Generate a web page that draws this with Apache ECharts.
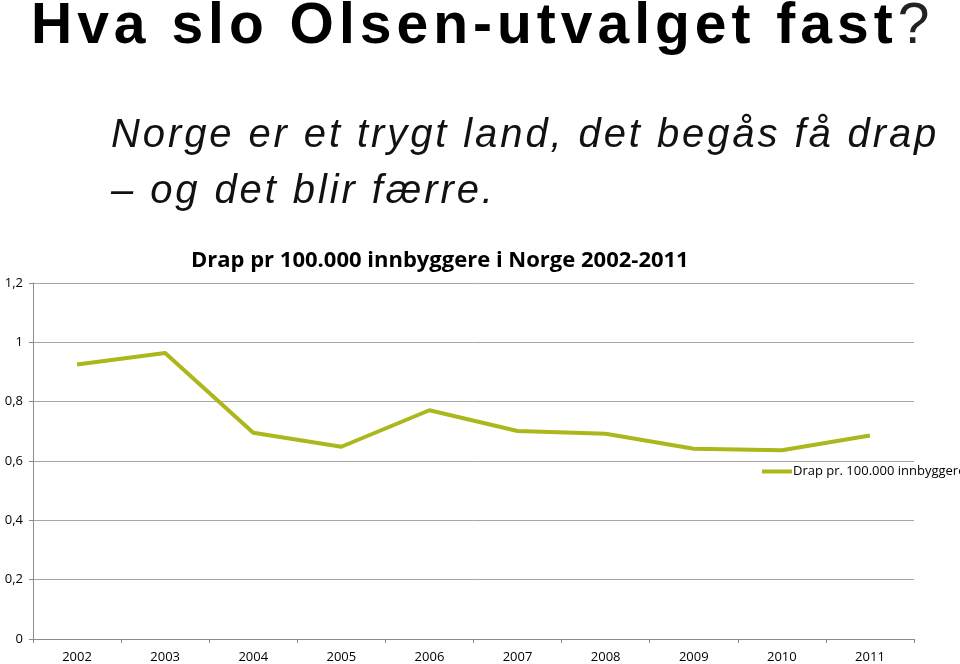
<!DOCTYPE html>
<html>
<head>
<meta charset="utf-8">
<script src="https://cdn.jsdelivr.net/npm/echarts@6/dist/echarts.min.js"></script>
<style>
  html, body { margin: 0; padding: 0; background: #fff; }
  #wrap { position: relative; width: 960px; height: 664px; overflow: hidden; }
  #container { position: absolute; left: 0; top: 0; width: 960px; height: 664px; }
  .head { position: absolute; font-family: "Liberation Sans", Arial, sans-serif; color: #000; white-space: nowrap; }
  #title { left: 31px; top: -5px; font-size: 57px; line-height: 57px; font-weight: bold; letter-spacing: 5px; }
  #title span { font-weight: normal; letter-spacing: 0; color: #222; }
  #sub { left: 111px; top: 105px; font-size: 40px; line-height: 56px; font-style: italic; letter-spacing: 2.9px; color: #111; }
</style>
</head>
<body>
<div id="wrap">
  <div id="container"></div>
  <div class="head" id="title">Hva slo Olsen-utvalget fast<span>?</span></div>
  <div class="head" id="sub">Norge er et trygt land, det begås få drap<br>– og det blir færre.</div>
</div>
<script>
var years = ['2002', '2003', '2004', '2005', '2006', '2007', '2008', '2009', '2010', '2011'];
var drap = [0.925, 0.964, 0.695, 0.648, 0.771, 0.701, 0.692, 0.641, 0.636, 0.686];
var seriesName = 'Drap pr. 100.000 innbyggere';
var chartTitle = 'Drap pr 100.000 innbyggere i Norge 2002-2011';

var myChart = echarts.init(document.getElementById('container'));
var font = '"Open Sans", Lato, sans-serif';
option = {
    animation: false,
    title: {
        text: chartTitle,
        left: 186,
        top: 245,
        textStyle: { fontFamily: font, fontSize: 22, fontWeight: 'bold', color: '#000' }
    },
    legend: {
        data: [seriesName],
        left: 757,
        top: 460,
        itemWidth: 30,
        itemHeight: 4,
        itemGap: 4,
        icon: 'rect',
        textStyle: { fontFamily: font, fontSize: 13, color: '#000', padding: [0, 0, 0, -4] }
    },
    grid: { left: 33, right: 46, top: 283, bottom: 24, containLabel: false },
    xAxis: {
        type: 'category',
        data: years,
        boundaryGap: true,
        axisLine: { lineStyle: { color: '#8c8c8c', width: 1 } },
        axisTick: { show: true, length: 4, lineStyle: { color: '#8c8c8c' } },
        axisLabel: { fontFamily: font, fontSize: 13, color: '#000', margin: 12 }
    },
    yAxis: {
        type: 'value',
        min: 0,
        max: 1.2,
        interval: 0.2,
        axisLine: { show: true, lineStyle: { color: '#8c8c8c', width: 1 } },
        axisTick: { show: true, length: 4, inside: false, lineStyle: { color: '#8c8c8c' } },
        splitLine: { lineStyle: { color: '#a6a6a6', width: 1 } },
        axisLabel: {
            fontFamily: font, fontSize: 13, color: '#000', margin: 10,
            formatter: function (v) { return String(Math.round(v * 10) / 10).replace('.', ','); }
        }
    },
    series: [{
        name: seriesName,
        type: 'line',
        data: drap,
        symbol: 'none',
        color: '#acb71c',
        lineStyle: { width: 4, color: '#acb71c' }
    }]
};
myChart.setOption(option);
</script>
</body>
</html>
